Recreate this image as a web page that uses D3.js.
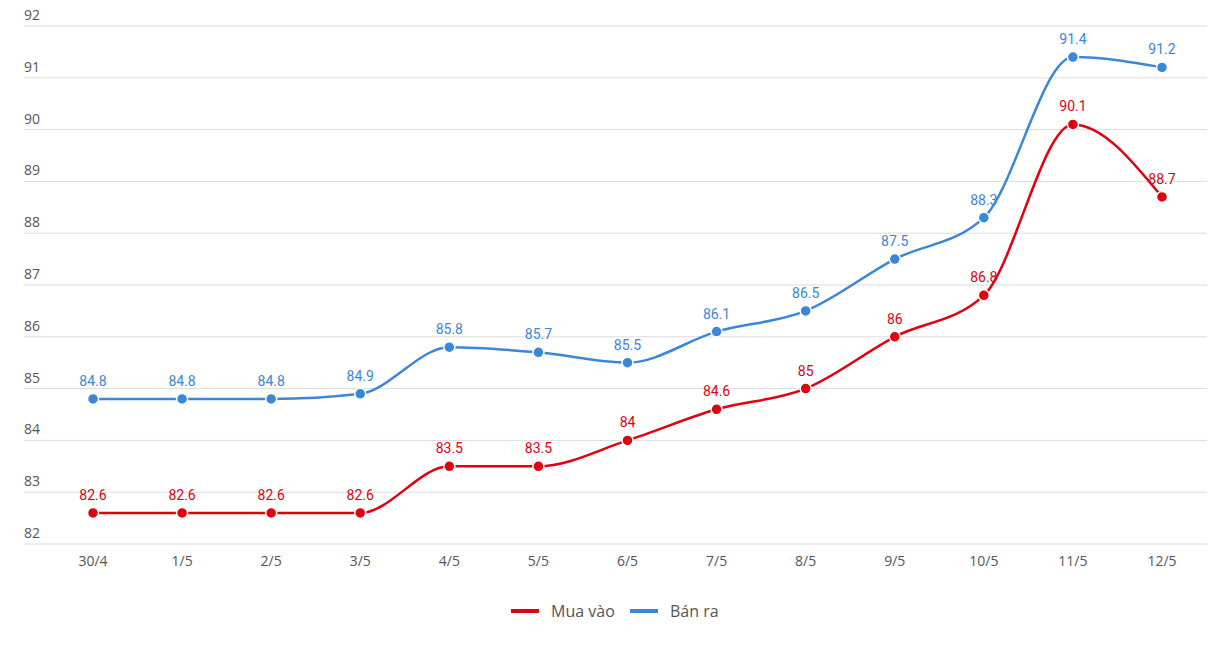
<!DOCTYPE html>
<html><head><meta charset="utf-8">
<script src="https://cdn.jsdelivr.net/npm/d3@7"></script>
<style>body{margin:0;background:#fff}svg{display:block}</style>
</head><body><svg id="c" width="1218" height="672"></svg>
<script>
const categories = ["30/4","1/5","2/5","3/5","4/5","5/5","6/5","7/5","8/5","9/5","10/5","11/5","12/5"];
const muaVao = [82.6,82.6,82.6,82.6,83.5,83.5,84,84.6,85,86,86.8,90.1,88.7];
const banRa = [84.8,84.8,84.8,84.9,85.8,85.7,85.5,86.1,86.5,87.5,88.3,91.4,91.2];
const yTicks = [82,83,84,85,86,87,88,89,90,91,92];
const seriesNames = ["Mua vào","Bán ra"];
const colors = ["#e1000f","#3a86d9"];

const svg = d3.select("#c");
const x = d3.scalePoint().domain(categories).range([93,1162]);
const y = d3.scaleLinear().domain([82,92]).range([544,26]);

const g = svg.append("g");
g.selectAll("line.grid").data(yTicks).join("line")
  .attr("x1",24).attr("x2",1207).attr("y1",d=>y(d)).attr("y2",d=>y(d))
  .attr("stroke","#dcdcdc").attr("stroke-width",1);
g.selectAll("text.yl").data(yTicks).join("text")
  .attr("x",24).attr("y",d=>y(d)-6)
  .attr("font-family","Open Sans").attr("font-size",14).attr("fill","#555")
  .text(d=>d);
g.selectAll("text.xl").data(categories).join("text")
  .attr("x",d=>x(d)).attr("y",566).attr("text-anchor","middle")
  .attr("font-family","Open Sans").attr("font-size",14).attr("fill","#555")
  .text(d=>d);

const line = d3.line().x((d,i)=>x(categories[i])).y(d=>y(d)).curve(d3.curveMonotoneX);
[muaVao,banRa].forEach((s,k)=>{
  const sg = svg.append("g");
  sg.append("path").attr("d",line(s)).attr("fill","none").attr("stroke",colors[k]).attr("stroke-width",2.5);
  sg.selectAll("circle").data(s).join("circle")
    .attr("cx",(d,i)=>x(categories[i])).attr("cy",d=>y(d)).attr("r",5.5)
    .attr("fill",colors[k]).attr("stroke","#fff").attr("stroke-width",1.5);
  sg.selectAll("text").data(s).join("text")
    .attr("x",(d,i)=>x(categories[i])).attr("y",d=>y(d)-13)
    .attr("text-anchor","middle").attr("font-family","Roboto").attr("font-size",14)
    .attr("fill",colors[k]).text(d=>d);
});

const leg = svg.append("g");
const legItems = [{x:511,tx:551},{x:630,tx:670}];
seriesNames.forEach((n,k)=>{
  leg.append("line").attr("x1",legItems[k].x).attr("x2",legItems[k].x+28).attr("y1",611).attr("y2",611)
    .attr("stroke",colors[k]).attr("stroke-width",4);
  leg.append("text").attr("x",legItems[k].tx).attr("y",617).attr("font-family","Open Sans")
    .attr("font-size",16).attr("fill","#555").text(n);
});
</script></body></html>
